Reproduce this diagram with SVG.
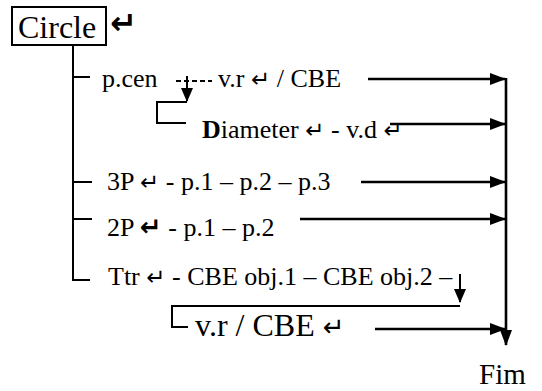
<svg xmlns="http://www.w3.org/2000/svg" width="542" height="391" viewBox="0 0 542 391">
<style>
text{font-family:"Liberation Serif","Times New Roman",serif;fill:#000;font-size:26px}
.big{font-size:32px}
.sym{font-family:"DejaVu Sans",sans-serif;font-size:23px}
.tree{fill:none;stroke:#000;stroke-width:2}
.arr{fill:none;stroke:#000;stroke-width:2.6}
</style>
<defs>
<marker id="ah" viewBox="0 0 16 12" refX="15" refY="6" markerUnits="userSpaceOnUse" markerWidth="16" markerHeight="12" orient="auto"><path d="M0,0 L16,6 L0,12 z"/></marker>
<marker id="ahs" viewBox="0 0 14 12" refX="13" refY="6" markerUnits="userSpaceOnUse" markerWidth="14" markerHeight="12" orient="auto"><path d="M0,0 L14,6 L0,12 z"/></marker>
</defs>
<g id="circle">
<rect x="12" y="7" width="94" height="38" fill="#fff" stroke="#000" stroke-width="2"/>
<text class="big" x="18" y="38">Circle</text>
<text class="sym" x="110" y="34" style="font-size:32px;font-weight:bold">↵</text>
</g>
<g id="pcen"><text x="102" y="87">p.cen</text></g>
<g id="vr"><text x="218" y="87">v.r <tspan class="sym">↵</tspan> / CBE</text></g>
<g id="diameter"><text x="202" y="138"><tspan font-weight="bold">D</tspan>iameter <tspan class="sym">↵</tspan> - v.d <tspan class="sym">↵</tspan></text></g>
<g id="p3"><text x="107" y="190">3P <tspan class="sym">↵</tspan> - p.1 – p.2 – p.3</text></g>
<g id="p2"><text x="107" y="236">2P <tspan class="sym" font-weight="bold" style="font-size:26px">↵</tspan> - p.1 – p.2</text></g>
<g id="ttr"><text x="108" y="285">Ttr <tspan class="sym">↵</tspan> - CBE obj.1 – CBE obj.2 –</text></g>
<g id="vrcbe"><text class="big" x="195" y="336">v.r / CBE <tspan class="sym" style="font-size:26px">↵</tspan></text></g>
<g id="fim"><text x="479" y="384" style="font-size:29px">Fim</text></g>
<g id="connectors">
<path class="tree" d="M73,45 V280 H90 M73,77 H90 M73,182 H92 M73,219 H92"/>
<path class="tree" d="M176,81 H212" stroke-dasharray="5,3"/>
<path class="tree" d="M187,76 V101" marker-end="url(#ahs)"/>
<path class="tree" d="M187,102 H157 V123 H186"/>
<path class="tree" d="M460,274 V302" marker-end="url(#ahs)"/>
<path class="tree" d="M460,306 H172 V327 H188"/>
<path class="arr" d="M368,79 H505" marker-end="url(#ah)"/>
<path class="arr" d="M390,124 H505" marker-end="url(#ah)"/>
<path class="arr" d="M361,182 H505" marker-end="url(#ah)"/>
<path class="arr" d="M300,219 H505" marker-end="url(#ah)"/>
<path class="arr" d="M375,329 H505" marker-end="url(#ah)"/>
<path class="arr" d="M506,78 V345" marker-end="url(#ah)"/>
</g>
</svg>
